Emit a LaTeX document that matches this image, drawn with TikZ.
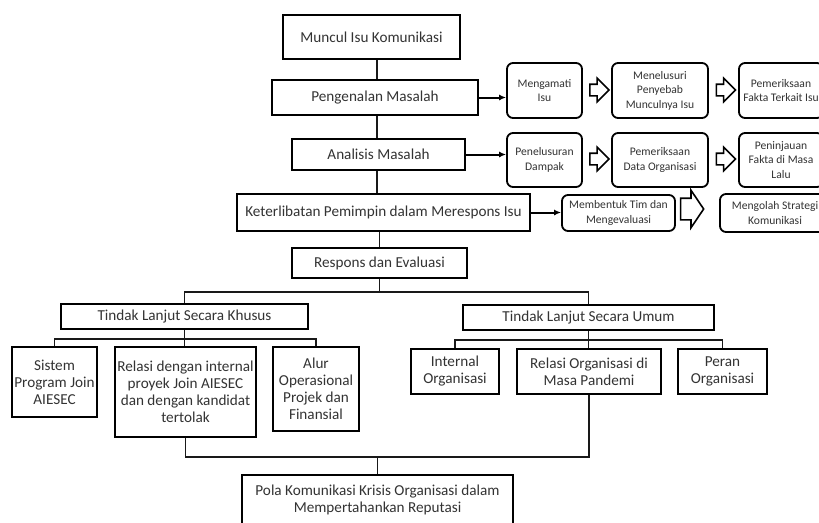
\documentclass[tikz,border=0pt]{standalone}
\usepackage{fontspec}
\setmainfont{Carlito}
\usetikzlibrary{arrows.meta}
\usetikzlibrary{shapes,arrows}

\begin{document}
\begin{tikzpicture}[x=1pt,y=-1pt]
	\def \spine{377}
	\tikzstyle{m-box}=[rectangle,draw=black,line width=2pt,inner sep=0pt,align=center,text=black!80,font=\fontsize{15.2}{17}\selectfont]
	\tikzstyle{s-box}=[rectangle,rounded corners=6pt,draw=black,line width=1.8pt,inner sep=0pt,align=center,text=black!80,font=\fontsize{11.6}{14.5}\selectfont]
	\tikzstyle{h-arrow}=[single arrow,draw=black,line width=1.6pt,inner xsep=0pt,inner ysep=5pt,single arrow head extend=6pt,minimum height=19pt]
	\tikzstyle{link}=[draw=black!90,line width=1.7pt]
	\tikzstyle{tip}=[-{Latex[length=7pt,width=6pt]},line width=2pt]
	\useasboundingbox[fill=white] (0,0) rectangle (819,522);
	
	% main column
	\node[m-box,minimum width=177pt,minimum height=44pt] (muncul) at (371.5,37) {Muncul Isu Komunikasi};
	\node[m-box,minimum width=206pt,minimum height=35pt] (pengenalan) at (375,97.5) {Pengenalan Masalah};
	\node[m-box,minimum width=173pt,minimum height=31pt] (analisis) at (378.5,154.5) {Analisis Masalah};
	\node[m-box,minimum width=293pt,minimum height=37pt] (keterlibatan) at (383.5,212.5) {Keterlibatan Pemimpin dalam Merespons Isu};
	\node[m-box,minimum width=175pt,minimum height=30pt] (respons) at (379.5,263) {Respons dan Evaluasi};
	
	% steps on the right
	\node[s-box,minimum width=75pt,minimum height=55pt] (mengamati) at (544.5,90.5) {Mengamati\\Isu};
	\node[s-box,minimum width=96pt,minimum height=55pt] (menelusuri) at (660,90.5) {Menelusuri\\Penyebab\\Munculnya Isu};
	\node[s-box,minimum width=84pt,minimum height=55pt] (fakta) at (781,90.5) {Pemeriksaan\\Fakta Terkait Isu};
	\node[s-box,minimum width=75pt,minimum height=54pt] (penelusuran) at (544.5,160) {Penelusuran\\Dampak};
	\node[s-box,minimum width=96pt,minimum height=54pt] (datorg) at (660,160) {Pemeriksaan\\Data Organisasi};
	\node[s-box,minimum width=84pt,minimum height=54pt] (peninjauan) at (781,160) {Peninjauan\\Fakta di Masa\\Lalu};
	\node[s-box,minimum width=113pt,minimum height=36pt] (membentuk) at (618.5,213) {Membentuk Tim dan\\Mengevaluasi};
	\node[s-box,minimum width=110pt,minimum height=38pt] (mengolah) at (775,213) {Mengolah Strategi\\Komunikasi};
	
	\node[h-arrow] (ha1) at (596.5,90) {};
	\node[h-arrow] (ha2) at (723,90) {};
	\node[h-arrow] (ha3) at (596.5,159) {};
	\node[h-arrow] (ha4) at (723,159) {};
	\node[h-arrow,inner ysep=10pt,minimum height=23pt,single arrow head extend=8pt,single arrow tip angle=112] (ha5) at (688.5,209) {};
	
	% follow-up
	\node[m-box,minimum width=247pt,minimum height=25pt] (khusus) at (184.5,316.5) {Tindak Lanjut Secara Khusus};
	\node[m-box,minimum width=251pt,minimum height=25pt] (umum) at (588.5,317.5) {Tindak Lanjut Secara Umum};
	
	\node[m-box,minimum width=85pt,minimum height=70pt] (sistem) at (54.5,382) {Sistem\\Program Join\\AIESEC};
	\node[m-box,minimum width=141pt,minimum height=90pt] (relasiint) at (185.5,392) {Relasi dengan internal\\proyek Join AIESEC\\dan dengan kandidat\\tertolak};
	\node[m-box,minimum width=86pt,minimum height=84pt] (alur) at (316,389) {Alur\\Operasional\\Projek dan\\Finansial};
	
	\node[m-box,minimum width=88pt,minimum height=45pt] (internal) at (455,371.5) {Internal\\Organisasi};
	\node[m-box,minimum width=144pt,minimum height=45pt] (relasiorg) at (589,371.5) {Relasi Organisasi di\\Masa Pandemi};
	\node[m-box,minimum width=89pt,minimum height=45pt] (peran) at (722.5,371.5) {Peran\\Organisasi};
	
	\node[m-box,minimum width=271pt,minimum height=50pt] (pola) at (377.5,500) {Pola Komunikasi Krisis Organisasi dalam\\Mempertahankan Reputasi};
	
	\coordinate (spine) at (\spine,0);
	\coordinate (fork1) at (379.5,292);
	\coordinate (fork2) at (184.5,339);
	\coordinate (fork3) at (588.5,340);
	\coordinate (fork4) at (377.5,457);
	
	% connectors
	\draw[link] (muncul.south -| spine) -- (pengenalan.north -| spine);
	\draw[link] (pengenalan.south -| spine) -- (analisis.north -| spine);
	\draw[link] (analisis.south -| spine) -- (keterlibatan.north -| spine);
	\draw[link] (keterlibatan.south -| respons.north) -- (respons.north);
	\draw[link] (respons.south) -- (fork1);
	\draw[link] (khusus.north) |- (fork1) -| (umum.north);
	\draw[link] (khusus.south) -- (fork2);
	\draw[link] (sistem.north) |- (fork2) -| (alur.north);
	\draw[link] (fork2) -- (fork2 |- relasiint.north);
	\draw[link] (umum.south) -- (fork3);
	\draw[link] (internal.north) |- (fork3) -| (peran.north);
	\draw[link] (fork3) -- (fork3 |- relasiorg.north);
	\draw[link] (relasiint.south) |- (fork4) -| (relasiorg.south);
	\draw[link] (fork4) -- (pola.north);
	
	\draw[tip] (pengenalan.east) -- (pengenalan.east -| mengamati.west);
	\draw[tip] (analisis.east) -- (analisis.east -| penelusuran.west);
	\draw[tip] (keterlibatan.east) -- (keterlibatan.east -| membentuk.west);
\end{tikzpicture}
\end{document}
